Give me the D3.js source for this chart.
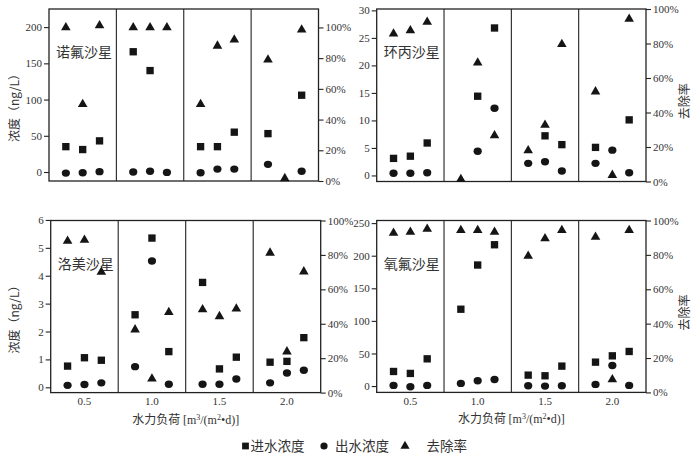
<!DOCTYPE html>
<html>
<head>
<meta charset="utf-8">
<script src="https://cdn.jsdelivr.net/npm/d3@7"></script>
<style>
  body { margin: 0; background: #fff; }
</style>
</head>
<body>
<div id="chart"></div>
<script>
// hydraulic load categories, 3 runs per load
const categories = ["0.5", "1.0", "1.5", "2.0"];
const runs = [0, 1, 2];

// 诺氟沙星
const norInflow  = [35, 31, 43, 166, 140, null, 35, 35, 55, 53, null, 106];
const norOutflow = [-1.5, -1, 0.5, 0, 1, -0.5, -1, 4, 4, 10.6, null, 1];
const norRemoval = [100, 50, 101.3, 100, 100, 100, 50, 88, 92, 79, 1.7, 98.5];
// 环丙沙星
const cipInflow  = [3.1, 3.5, 5.9, null, 14.4, 26.8, null, 7.2, 5.6, 5.1, null, 10.1];
const cipOutflow = [0.4, 0.4, 0.5, null, 4.4, 12.2, 2.2, 2.5, 0.8, 2.2, 4.6, 0.5];
const cipRemoval = [85.6, 87.5, 92.5, 1.3, 68.8, 26.7, 18, 32.7, 79.6, 52.1, 3.7, 94.2];
// 洛美沙星
const lomInflow  = [0.76, 1.06, 0.97, 2.6, 5.35, 1.28, 3.76, 0.66, 1.08, 0.9, 0.93, 1.78];
const lomOutflow = [0.07, 0.1, 0.16, 0.74, 4.53, 0.11, 0.11, 0.11, 0.3, 0.16, 0.51, 0.61];
const lomRemoval = [88.1, 88.7, 70.1, 36.6, 8, 46.7, 48.3, 44.3, 48.7, 81.2, 23.8, 70.3];
// 氧氟沙星
const oflInflow  = [22.4, 19.4, 41.8, 117.9, 185.7, 216.8, 16.8, 15.8, 30.6, 36.7, 46.4, 53.1];
const oflOutflow = [1, -1, 1, 4.1, 8.2, 10.2, 0.5, 0, 0.5, 2.6, 31.6, 1];
const oflRemoval = [92.7, 93.3, 95, 94.3, 94.3, 93.3, 79.3, 89.5, 94.3, 90.4, 7.5, 94.3];

// tick labels
const norTicks = [0, 50, 100, 150, 200];
const cipTicks = [0, 5, 10, 15, 20, 25, 30];
const lomTicks = [0, 1, 2, 3, 4, 5, 6];
const oflTicks = [0, 50, 100, 150, 200, 250];
const pctTicks = [0, 20, 40, 60, 80, 100];

const legendLabels = ["进水浓度", "出水浓度", "去除率"];
const yTitle = "浓度（ng/L）";
const rTitle = "去除率";

const width = 700;
const height = 464;
const serif = '"Liberation Serif", "DejaVu Serif", serif';
const cjk = '"Noto Sans CJK SC", sans-serif';
const textColor = "#333";

const svg = d3.select("#chart")
  .append("svg")
    .attr("width", width)
    .attr("height", height);

/* ----------------------- panel layout ----------------------- */
const panels = [
  {name: "诺氟沙星", inflow: norInflow, outflow: norOutflow, removal: norRemoval, ticks: norTicks,
   x0: 49, x1: 318.5, y0: 9, y1: 181, ydom: [-12.4, 225], rdom: [0, 112],
   leftTitle: true, rightTitle: false, xLabels: false},
  {name: "环丙沙星", inflow: cipInflow, outflow: cipOutflow, removal: cipRemoval, ticks: cipTicks,
   x0: 376.7, x1: 646, y0: 9, y1: 181.5, ydom: [-1.1, 30.25], rdom: [0, 100],
   leftTitle: false, rightTitle: true, xLabels: false},
  {name: "洛美沙星", inflow: lomInflow, outflow: lomOutflow, removal: lomRemoval, ticks: lomTicks,
   x0: 50.7, x1: 320.7, y0: 220.5, y1: 392.6, ydom: [-0.19, 5.98], rdom: [0, 100],
   leftTitle: true, rightTitle: false, xLabels: true},
  {name: "氧氟沙星", inflow: oflInflow, outflow: oflOutflow, removal: oflRemoval, ticks: oflTicks,
   x0: 376.7, x1: 646, y0: 220.5, y1: 392.4, ydom: [-9.7, 254], rdom: [0, 100],
   leftTitle: false, rightTitle: true, xLabels: true}
];

const squareSym = d3.symbol().type(d3.symbolSquare).size(54);
const triSym = d3.symbol().type(d3.symbolTriangle).size(40);
const ink = "#151515";

function styleAxis(a) {
  a.attr("font-size", null).attr("font-family", null);
  a.select(".domain").remove();
  a.selectAll("line").attr("stroke", "#222").attr("stroke-width", 1.1);
  a.selectAll("text")
    .attr("fill", textColor)
    .style("font-family", serif)
    .style("font-size", "11px");
}

function drawPanel(p) {
  const g = svg.append("g");

  const x = d3.scaleBand().domain(categories).range([p.x0, p.x1]).padding(0);
  const sub = d3.scalePoint().domain(runs).range([x.bandwidth() * 0.25, x.bandwidth() * 0.75]);
  const y = d3.scaleLinear().domain(p.ydom).range([p.y1, p.y0]);
  const r = d3.scaleLinear().domain(p.rdom).range([p.y1, p.y0]);

  const px = i => x(categories[Math.floor(i / 3)]) + sub(i % 3);

  // frame + section dividers
  g.append("rect")
    .attr("x", p.x0).attr("y", p.y0)
    .attr("width", p.x1 - p.x0).attr("height", p.y1 - p.y0)
    .attr("fill", "none").attr("stroke", "#222").attr("stroke-width", 1.3);

  g.selectAll(".divider")
    .data(categories.slice(1))
    .join("line")
      .attr("class", "divider")
      .attr("x1", d => x(d)).attr("x2", d => x(d))
      .attr("y1", p.y0).attr("y2", p.y1)
      .attr("stroke", "#222").attr("stroke-width", 1.1);

  // axes
  g.append("g")
    .attr("transform", `translate(${p.x0},0)`)
    .call(d3.axisLeft(y).tickValues(p.ticks).tickSize(5).tickPadding(2).tickFormat(d => d))
    .call(styleAxis);
  g.append("g")
    .attr("transform", `translate(${p.x1},0)`)
    .call(d3.axisRight(r).tickValues(pctTicks).tickSize(5).tickPadding(2).tickFormat(d => d + "%"))
    .call(styleAxis);

  if (p.xLabels) {
    g.append("g")
      .attr("transform", `translate(0,${p.y1})`)
      .call(d3.axisBottom(x).tickSize(0).tickPadding(5))
      .call(styleAxis);

    const t = g.append("text")
      .attr("x", (p.x0 + p.x1) / 2)
      .attr("y", p.y1 + 31)
      .attr("text-anchor", "middle")
      .attr("fill", textColor)
      .style("font-size", "12px");
    t.append("tspan").style("font-family", cjk).text("水力负荷 ");
    const u = t.append("tspan").style("font-family", serif);
    u.append("tspan").text("[m");
    u.append("tspan").attr("dy", -4).style("font-size", "8px").text("3");
    u.append("tspan").attr("dy", 4).text("/(m");
    u.append("tspan").attr("dy", -4).style("font-size", "8px").text("2");
    u.append("tspan").attr("dy", 4).text("•d)]");
  }

  if (p.leftTitle) {
    g.append("text")
      .attr("fill", textColor)
      .style("font-family", cjk)
      .style("font-size", "12px")
      .attr("text-anchor", "middle")
      .attr("transform", `translate(19,${(p.y0 + p.y1) / 2 + 10}) rotate(-90)`)
      .text(yTitle);
  }
  if (p.rightTitle) {
    g.append("text")
      .attr("fill", textColor)
      .style("font-family", cjk)
      .style("font-size", "12px")
      .attr("text-anchor", "middle")
      .attr("transform", `translate(689,${(p.y0 + p.y1) / 2 + 6}) rotate(-90)`)
      .text(rTitle);
  }

  // drug name
  g.append("text")
    .attr("fill", textColor)
    .style("font-family", cjk)
    .style("font-size", "14px")
    .attr("x", p.x0 + 7)
    .attr("y", p.y0 + 48)
    .text(p.name);

  // markers
  const idx = d3.range(12);
  g.selectAll(".inflow")
    .data(idx.filter(i => p.inflow[i] != null))
    .join("path")
      .attr("class", "inflow")
      .attr("d", squareSym)
      .attr("transform", i => `translate(${px(i)},${y(p.inflow[i])})`)
      .attr("fill", ink);

  g.selectAll(".outflow")
    .data(idx.filter(i => p.outflow[i] != null))
    .join("ellipse")
      .attr("class", "outflow")
      .attr("cx", i => px(i))
      .attr("cy", i => y(p.outflow[i]))
      .attr("rx", 4.1).attr("ry", 3.7)
      .attr("fill", ink);

  g.selectAll(".removal")
    .data(idx.filter(i => p.removal[i] != null))
    .join("path")
      .attr("class", "removal")
      .attr("d", triSym)
      .attr("transform", i => `translate(${px(i)},${r(p.removal[i])})`)
      .attr("fill", ink);
}

panels.forEach(drawPanel);

/* ----------------------- legend ----------------------- */
const legend = svg.append("g").attr("transform", "translate(0,446)");
const legendItems = [
  {sym: d3.symbol().type(d3.symbolSquare).size(46), sx: 245.5, tx: 250.5},
  {sym: null, sx: 324, tx: 335},
  {sym: d3.symbol().type(d3.symbolTriangle).size(36), sx: 405, tx: 426.5}
];
legendItems.forEach((it, k) => {
  if (it.sym) {
    legend.append("path").attr("d", it.sym).attr("transform", `translate(${it.sx},0)`).attr("fill", ink);
  } else {
    legend.append("circle").attr("cx", it.sx).attr("cy", 0).attr("r", 3.6).attr("fill", ink);
  }
  legend.append("text")
    .attr("fill", textColor)
    .style("font-family", cjk)
    .style("font-size", "13.5px")
    .attr("x", it.tx)
    .attr("y", 5)
    .text(legendLabels[k]);
});
</script>
</body>
</html>
